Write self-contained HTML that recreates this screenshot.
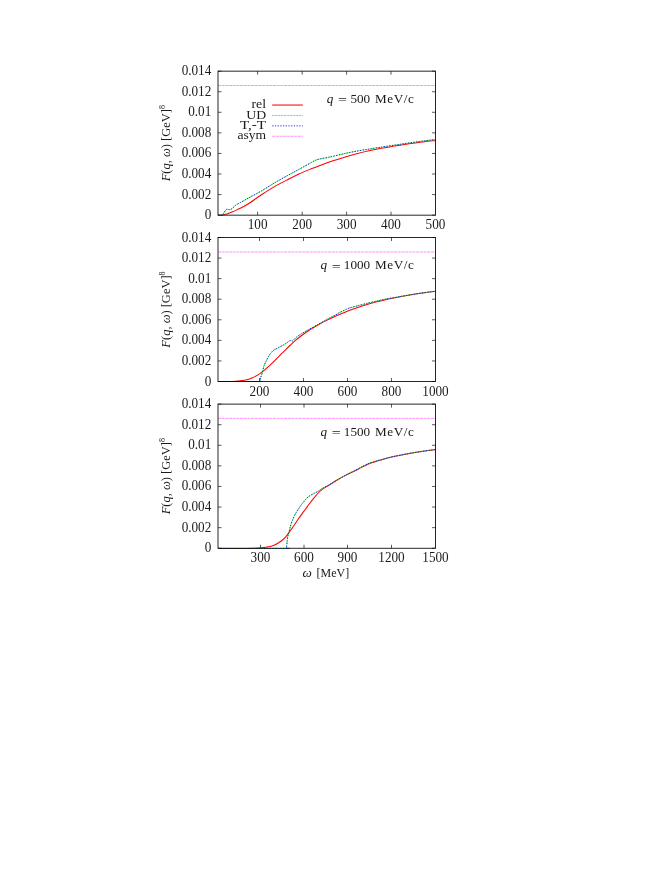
<!DOCTYPE html>
<html><head><meta charset="utf-8"><title>F(q,omega)</title>
<style>
html,body{margin:0;padding:0;background:#fff;}
body{width:654px;height:872px;overflow:hidden;font-family:"Liberation Serif",serif;}
svg{display:block;position:absolute;left:0;top:0;will-change:transform;}
text{font-family:"Liberation Serif",serif;font-size:13.2px;fill:#1a1a1a;}
.i{font-style:italic;}
.fr{fill:none;stroke:#000;stroke-width:0.85;}
.tk{stroke:#000;stroke-width:0.65;fill:none;}
.red{fill:none;stroke:#ff0000;stroke-width:1.05;stroke-linejoin:round;}
.grn{fill:none;stroke:#00ff00;stroke-width:0.72;stroke-dasharray:2.2 0.8;}
.blu{fill:none;stroke:#0000ff;stroke-width:0.8;stroke-dasharray:1.3 1.4;}
.mag{fill:none;stroke:#ff00ff;stroke-width:0.44;stroke-dasharray:3.0 0.67;}
</style></head><body>
<svg width="654" height="872" viewBox="0 0 654 872">
<rect x="0" y="0" width="654" height="872" fill="#ffffff"/>

<g>
<clipPath id="c0"><rect x="217.50" y="70.65" width="218.70" height="145.20"/></clipPath>
<text transform="translate(211.30 219.15) scale(1.000 1.080)" text-anchor="end">0</text>
<text transform="translate(211.30 198.58) scale(1.000 1.080)" text-anchor="end">0.002</text>
<text transform="translate(211.30 178.01) scale(1.000 1.080)" text-anchor="end">0.004</text>
<text transform="translate(211.30 157.44) scale(1.000 1.080)" text-anchor="end">0.006</text>
<text transform="translate(211.30 136.86) scale(1.000 1.080)" text-anchor="end">0.008</text>
<text transform="translate(211.30 116.29) scale(1.000 1.080)" text-anchor="end">0.01</text>
<text transform="translate(211.30 95.72) scale(1.000 1.080)" text-anchor="end">0.012</text>
<text transform="translate(211.30 75.15) scale(1.000 1.080)" text-anchor="end">0.014</text>
<text transform="translate(257.60 229.40) scale(1.000 1.080)" text-anchor="middle">100</text>
<text transform="translate(302.20 229.40) scale(1.000 1.080)" text-anchor="middle">200</text>
<text transform="translate(346.60 229.40) scale(1.000 1.080)" text-anchor="middle">300</text>
<text transform="translate(391.00 229.40) scale(1.000 1.080)" text-anchor="middle">400</text>
<text transform="translate(435.50 229.40) scale(1.000 1.080)" text-anchor="middle">500</text>
<path class="tk" d="M218.00 215.15h3.50M435.50 215.15h-3.50M218.00 194.58h3.50M435.50 194.58h-3.50M218.00 174.01h3.50M435.50 174.01h-3.50M218.00 153.44h3.50M435.50 153.44h-3.50M218.00 132.86h3.50M435.50 132.86h-3.50M218.00 112.29h3.50M435.50 112.29h-3.50M218.00 91.72h3.50M435.50 91.72h-3.50M218.00 71.15h3.50M435.50 71.15h-3.50M257.60 215.15v-3.50M257.60 71.15v3.50M302.20 215.15v-3.50M302.20 71.15v3.50M346.60 215.15v-3.50M346.60 71.15v3.50M391.00 215.15v-3.50M391.00 71.15v3.50"/>
<g clip-path="url(#c0)">
<path class="red" d="M218.20 215.35C218.95 215.31 221.23 215.34 222.70 215.10C224.17 214.86 225.47 214.40 227.00 213.90C228.53 213.40 230.17 212.82 231.90 212.10C233.63 211.38 235.37 210.57 237.40 209.60C239.43 208.63 242.00 207.45 244.10 206.30C246.20 205.15 248.02 204.00 250.00 202.70C251.98 201.40 253.97 199.92 256.00 198.50C258.03 197.08 259.12 196.18 262.20 194.20C265.28 192.22 270.42 188.95 274.50 186.60C278.58 184.25 282.63 182.20 286.70 180.10C290.77 178.00 294.82 175.88 298.90 174.00C302.98 172.12 307.68 170.23 311.20 168.80C314.72 167.37 316.50 166.68 320.00 165.40C323.50 164.12 328.12 162.47 332.20 161.10C336.28 159.73 340.42 158.42 344.50 157.20C348.58 155.98 352.63 154.87 356.70 153.80C360.77 152.73 364.82 151.72 368.90 150.80C372.98 149.88 376.02 149.23 381.20 148.30C386.38 147.37 394.03 146.13 400.00 145.20C405.97 144.27 411.10 143.50 417.00 142.70C422.90 141.90 432.33 140.78 435.40 140.40"/>
<path class="grn" d="M218.20 215.35C218.71 215.33 222.00 215.37 222.60 215.20C223.19 215.03 222.86 214.58 223.30 213.90C223.74 213.22 225.68 209.89 226.40 209.40C227.12 208.91 228.86 209.78 229.50 209.70C230.14 209.62 231.19 209.21 231.90 208.70C232.61 208.19 234.60 206.02 235.60 205.30C236.60 204.58 239.22 203.22 240.50 202.50C241.78 201.78 245.49 199.72 246.60 199.10C247.71 198.48 248.18 198.20 250.00 197.20C251.82 196.20 259.34 192.17 262.20 190.50C265.06 188.83 271.64 184.59 274.50 182.90C277.36 181.21 283.85 177.57 286.70 176.00C289.55 174.43 296.04 170.96 298.90 169.40C301.76 167.84 309.27 163.66 311.20 162.60C313.12 161.54 314.41 160.72 315.40 160.30C316.39 159.88 318.00 159.38 319.70 159.00C321.40 158.62 327.11 157.63 330.00 157.00C332.89 156.37 341.38 154.29 344.50 153.60C347.62 152.91 353.85 151.62 356.70 151.10C359.55 150.57 366.04 149.57 368.90 149.10C371.76 148.63 377.57 147.66 381.20 147.10C384.83 146.54 395.82 144.92 400.00 144.30C404.18 143.68 412.87 142.36 417.00 141.80C421.13 141.24 433.25 139.77 435.40 139.50"/>
<path class="blu" d="M218.20 215.35C218.71 215.33 222.00 215.37 222.60 215.20C223.19 215.03 222.86 214.58 223.30 213.90C223.74 213.22 225.68 209.89 226.40 209.40C227.12 208.91 228.86 209.78 229.50 209.70C230.14 209.62 231.19 209.21 231.90 208.70C232.61 208.19 234.60 206.02 235.60 205.30C236.60 204.58 239.22 203.22 240.50 202.50C241.78 201.78 245.49 199.72 246.60 199.10C247.71 198.48 248.18 198.20 250.00 197.20C251.82 196.20 259.34 192.17 262.20 190.50C265.06 188.83 271.64 184.59 274.50 182.90C277.36 181.21 283.85 177.57 286.70 176.00C289.55 174.43 296.04 170.96 298.90 169.40C301.76 167.84 309.27 163.66 311.20 162.60C313.12 161.54 314.41 160.72 315.40 160.30C316.39 159.88 318.00 159.38 319.70 159.00C321.40 158.62 327.11 157.63 330.00 157.00C332.89 156.37 341.38 154.29 344.50 153.60C347.62 152.91 353.85 151.62 356.70 151.10C359.55 150.57 366.04 149.57 368.90 149.10C371.76 148.63 377.57 147.66 381.20 147.10C384.83 146.54 395.82 144.92 400.00 144.30C404.18 143.68 412.87 142.36 417.00 141.80C421.13 141.24 433.25 139.77 435.40 139.50"/>
<path class="mag" d="M218.00 85.50H435.50"/>
</g>
<rect class="fr" x="218.00" y="71.15" width="217.50" height="144.00"/>
<text transform="translate(326.65 102.95) scale(1.000 0.980)" class="i">q</text>
<text transform="translate(342.45 104.15) scale(1.200 0.980)" text-anchor="middle">=</text>
<text transform="translate(370.20 102.95) scale(1.000 0.980)" text-anchor="end">500</text>
<text transform="translate(375.00 102.95) scale(1.000 0.980)" textLength="38.8" lengthAdjust="spacing">MeV/c</text>
<text transform="translate(170.00 143.15) rotate(-90) scale(1.000 1.000)" text-anchor="middle" textLength="76.3" lengthAdjust="spacingAndGlyphs"><tspan class="i">F</tspan>(<tspan class="i">q</tspan>, <tspan class="i">ω</tspan>) [GeV]<tspan dy="-5.2" font-size="8.6">8</tspan></text>
</g>
<g>
<clipPath id="c1"><rect x="217.50" y="237.00" width="218.70" height="145.20"/></clipPath>
<text transform="translate(211.30 385.50) scale(1.000 1.080)" text-anchor="end">0</text>
<text transform="translate(211.30 364.93) scale(1.000 1.080)" text-anchor="end">0.002</text>
<text transform="translate(211.30 344.36) scale(1.000 1.080)" text-anchor="end">0.004</text>
<text transform="translate(211.30 323.79) scale(1.000 1.080)" text-anchor="end">0.006</text>
<text transform="translate(211.30 303.21) scale(1.000 1.080)" text-anchor="end">0.008</text>
<text transform="translate(211.30 282.64) scale(1.000 1.080)" text-anchor="end">0.01</text>
<text transform="translate(211.30 262.07) scale(1.000 1.080)" text-anchor="end">0.012</text>
<text transform="translate(211.30 241.50) scale(1.000 1.080)" text-anchor="end">0.014</text>
<text transform="translate(259.50 395.55) scale(1.000 1.080)" text-anchor="middle">200</text>
<text transform="translate(303.50 395.55) scale(1.000 1.080)" text-anchor="middle">400</text>
<text transform="translate(347.50 395.55) scale(1.000 1.080)" text-anchor="middle">600</text>
<text transform="translate(391.50 395.55) scale(1.000 1.080)" text-anchor="middle">800</text>
<text transform="translate(435.50 395.55) scale(1.000 1.080)" text-anchor="middle">1000</text>
<path class="tk" d="M218.00 381.50h3.50M435.50 381.50h-3.50M218.00 360.93h3.50M435.50 360.93h-3.50M218.00 340.36h3.50M435.50 340.36h-3.50M218.00 319.79h3.50M435.50 319.79h-3.50M218.00 299.21h3.50M435.50 299.21h-3.50M218.00 278.64h3.50M435.50 278.64h-3.50M218.00 258.07h3.50M435.50 258.07h-3.50M218.00 237.50h3.50M435.50 237.50h-3.50M259.50 381.50v-3.50M259.50 237.50v3.50M303.50 381.50v-3.50M303.50 237.50v3.50M347.50 381.50v-3.50M347.50 237.50v3.50M391.50 381.50v-3.50M391.50 237.50v3.50"/>
<g clip-path="url(#c1)">
<path class="red" d="M218.20 381.50C220.17 381.49 227.03 381.48 230.00 381.45C232.97 381.42 234.08 381.44 236.00 381.30C237.92 381.16 239.67 380.87 241.50 380.60C243.33 380.33 245.17 380.18 247.00 379.70C248.83 379.22 250.67 378.50 252.50 377.70C254.33 376.90 256.32 375.90 258.00 374.90C259.68 373.90 260.92 373.03 262.60 371.70C264.28 370.37 266.12 368.72 268.10 366.90C270.08 365.08 272.52 362.73 274.50 360.80C276.48 358.87 278.17 357.13 280.00 355.30C281.83 353.47 283.75 351.52 285.50 349.80C287.25 348.08 288.83 346.57 290.50 345.00C292.17 343.43 293.75 341.90 295.50 340.40C297.25 338.90 298.87 337.62 301.00 336.00C303.13 334.38 305.55 332.50 308.30 330.70C311.05 328.90 314.43 326.92 317.50 325.20C320.57 323.48 323.63 321.93 326.70 320.40C329.77 318.87 332.85 317.37 335.90 316.00C338.95 314.63 341.98 313.40 345.00 312.20C348.02 311.00 350.90 309.93 354.00 308.80C357.10 307.67 360.60 306.38 363.60 305.40C366.60 304.42 369.18 303.65 372.00 302.90C374.82 302.15 377.50 301.58 380.50 300.90C383.50 300.22 386.75 299.50 390.00 298.80C393.25 298.10 395.98 297.47 400.00 296.70C404.02 295.93 408.20 295.10 414.10 294.20C420.00 293.30 431.85 291.78 435.40 291.30"/>
<path class="grn" d="M218.20 381.50C222.96 381.50 254.16 381.57 259.00 381.50C263.84 381.43 259.49 381.40 259.70 380.90C259.91 380.40 260.46 378.27 260.80 377.20C261.14 376.13 262.23 373.04 262.60 371.70C262.97 370.36 263.57 366.98 264.00 365.70C264.43 364.42 265.72 361.88 266.30 360.70C266.88 359.52 268.31 356.67 269.00 355.60C269.69 354.53 271.56 352.19 272.20 351.50C272.84 350.81 273.69 350.18 274.50 349.70C275.31 349.22 278.03 347.96 279.10 347.40C280.17 346.84 282.73 345.47 283.70 344.90C284.67 344.33 286.68 343.00 287.40 342.50C288.12 342.00 289.29 340.79 289.90 340.60C290.51 340.41 291.84 341.30 292.60 340.90C293.36 340.50 295.42 337.99 296.40 337.20C297.38 336.41 299.61 334.96 301.00 334.10C302.39 333.24 306.38 330.88 308.30 329.80C310.23 328.72 315.35 326.00 317.50 324.80C319.65 323.60 324.55 320.68 326.70 319.50C328.85 318.32 334.35 315.53 335.90 314.70C337.45 313.87 338.45 313.17 340.00 312.40C341.55 311.63 347.06 308.89 349.20 308.10C351.33 307.31 356.17 306.17 358.30 305.60C360.44 305.03 365.35 303.72 367.50 303.20C369.65 302.68 374.55 301.59 376.70 301.10C378.85 300.61 383.18 299.52 385.90 299.00C388.62 298.48 396.71 297.16 400.00 296.60C403.29 296.04 409.97 294.83 414.10 294.20C418.23 293.57 432.91 291.55 435.40 291.20"/>
<path class="blu" d="M218.20 381.50C222.96 381.50 254.16 381.57 259.00 381.50C263.84 381.43 259.49 381.40 259.70 380.90C259.91 380.40 260.46 378.27 260.80 377.20C261.14 376.13 262.23 373.04 262.60 371.70C262.97 370.36 263.57 366.98 264.00 365.70C264.43 364.42 265.72 361.88 266.30 360.70C266.88 359.52 268.31 356.67 269.00 355.60C269.69 354.53 271.56 352.19 272.20 351.50C272.84 350.81 273.69 350.18 274.50 349.70C275.31 349.22 278.03 347.96 279.10 347.40C280.17 346.84 282.73 345.47 283.70 344.90C284.67 344.33 286.68 343.00 287.40 342.50C288.12 342.00 289.29 340.79 289.90 340.60C290.51 340.41 291.84 341.30 292.60 340.90C293.36 340.50 295.42 337.99 296.40 337.20C297.38 336.41 299.61 334.96 301.00 334.10C302.39 333.24 306.38 330.88 308.30 329.80C310.23 328.72 315.35 326.00 317.50 324.80C319.65 323.60 324.55 320.68 326.70 319.50C328.85 318.32 334.35 315.53 335.90 314.70C337.45 313.87 338.45 313.17 340.00 312.40C341.55 311.63 347.06 308.89 349.20 308.10C351.33 307.31 356.17 306.17 358.30 305.60C360.44 305.03 365.35 303.72 367.50 303.20C369.65 302.68 374.55 301.59 376.70 301.10C378.85 300.61 383.18 299.52 385.90 299.00C388.62 298.48 396.71 297.16 400.00 296.60C403.29 296.04 409.97 294.83 414.10 294.20C418.23 293.57 432.91 291.55 435.40 291.20"/>
<path class="mag" d="M218.00 252.00H435.50"/>
</g>
<rect class="fr" x="218.00" y="237.50" width="217.50" height="144.00"/>
<text transform="translate(320.50 269.30) scale(1.000 0.980)" class="i">q</text>
<text transform="translate(336.30 270.50) scale(1.200 0.980)" text-anchor="middle">=</text>
<text transform="translate(370.20 269.30) scale(1.000 0.980)" text-anchor="end">1000</text>
<text transform="translate(375.00 269.30) scale(1.000 0.980)" textLength="38.8" lengthAdjust="spacing">MeV/c</text>
<text transform="translate(170.00 309.50) rotate(-90) scale(1.000 1.000)" text-anchor="middle" textLength="76.3" lengthAdjust="spacingAndGlyphs"><tspan class="i">F</tspan>(<tspan class="i">q</tspan>, <tspan class="i">ω</tspan>) [GeV]<tspan dy="-5.2" font-size="8.6">8</tspan></text>
</g>
<g>
<clipPath id="c2"><rect x="217.50" y="403.60" width="218.70" height="145.35"/></clipPath>
<text transform="translate(211.30 552.25) scale(1.000 1.080)" text-anchor="end">0</text>
<text transform="translate(211.30 531.66) scale(1.000 1.080)" text-anchor="end">0.002</text>
<text transform="translate(211.30 511.06) scale(1.000 1.080)" text-anchor="end">0.004</text>
<text transform="translate(211.30 490.47) scale(1.000 1.080)" text-anchor="end">0.006</text>
<text transform="translate(211.30 469.88) scale(1.000 1.080)" text-anchor="end">0.008</text>
<text transform="translate(211.30 449.29) scale(1.000 1.080)" text-anchor="end">0.01</text>
<text transform="translate(211.30 428.69) scale(1.000 1.080)" text-anchor="end">0.012</text>
<text transform="translate(211.30 408.10) scale(1.000 1.080)" text-anchor="end">0.014</text>
<text transform="translate(260.50 561.90) scale(1.000 1.080)" text-anchor="middle">300</text>
<text transform="translate(304.00 561.90) scale(1.000 1.080)" text-anchor="middle">600</text>
<text transform="translate(347.50 561.90) scale(1.000 1.080)" text-anchor="middle">900</text>
<text transform="translate(391.50 561.90) scale(1.000 1.080)" text-anchor="middle">1200</text>
<text transform="translate(435.50 561.90) scale(1.000 1.080)" text-anchor="middle">1500</text>
<path class="tk" d="M218.00 548.25h3.50M435.50 548.25h-3.50M218.00 527.66h3.50M435.50 527.66h-3.50M218.00 507.06h3.50M435.50 507.06h-3.50M218.00 486.47h3.50M435.50 486.47h-3.50M218.00 465.88h3.50M435.50 465.88h-3.50M218.00 445.29h3.50M435.50 445.29h-3.50M218.00 424.69h3.50M435.50 424.69h-3.50M218.00 404.10h3.50M435.50 404.10h-3.50M260.50 548.25v-3.50M260.50 404.10v3.50M304.00 548.25v-3.50M304.00 404.10v3.50M347.50 548.25v-3.50M347.50 404.10v3.50M391.50 548.25v-3.50M391.50 404.10v3.50"/>
<g clip-path="url(#c2)">
<path class="red" d="M218.20 548.45C222.67 548.45 238.87 548.48 245.00 548.45C251.13 548.43 252.12 548.41 255.00 548.30C257.88 548.19 260.00 548.05 262.30 547.80C264.60 547.55 266.97 547.18 268.80 546.80C270.63 546.42 271.78 546.10 273.30 545.50C274.82 544.90 276.37 544.12 277.90 543.20C279.43 542.28 281.12 541.15 282.50 540.00C283.88 538.85 285.13 537.53 286.20 536.30C287.27 535.07 287.68 534.28 288.90 532.60C290.12 530.92 291.97 528.42 293.50 526.20C295.03 523.98 296.57 521.52 298.10 519.30C299.63 517.08 301.47 514.58 302.70 512.90C303.93 511.22 304.42 510.68 305.50 509.20C306.58 507.72 307.82 505.85 309.20 504.00C310.58 502.15 312.28 499.93 313.80 498.10C315.32 496.27 316.78 494.53 318.30 493.00C319.82 491.47 321.37 490.07 322.90 488.90C324.43 487.73 325.20 487.45 327.50 486.00C329.80 484.55 333.63 482.02 336.70 480.20C339.77 478.38 342.85 476.67 345.90 475.10C348.95 473.53 352.40 472.08 355.00 470.80C357.60 469.52 359.33 468.50 361.50 467.40C363.67 466.30 365.83 465.12 368.00 464.20C370.17 463.28 372.33 462.62 374.50 461.90C376.67 461.18 377.75 460.80 381.00 459.90C384.25 459.00 389.67 457.50 394.00 456.50C398.33 455.50 402.67 454.70 407.00 453.90C411.33 453.10 415.27 452.42 420.00 451.70C424.73 450.98 432.83 449.95 435.40 449.60"/>
<path class="grn" d="M218.20 548.45C226.13 548.45 278.24 548.51 286.20 548.45C294.16 548.39 286.29 548.68 286.40 547.90C286.50 547.12 286.94 543.15 287.10 541.80C287.26 540.45 287.59 537.37 287.80 536.30C288.01 535.23 288.61 533.72 288.90 532.60C289.19 531.48 289.87 528.19 290.30 526.70C290.73 525.21 292.01 521.30 292.60 519.80C293.19 518.29 294.70 515.08 295.40 513.80C296.10 512.52 297.85 509.92 298.60 508.80C299.35 507.68 301.05 505.19 301.80 504.20C302.55 503.21 304.23 501.19 305.00 500.30C305.77 499.41 307.37 497.39 308.40 496.60C309.43 495.81 312.64 494.13 313.80 493.50C314.96 492.87 317.24 491.84 318.30 491.20C319.36 490.56 321.83 488.61 322.90 488.00C323.97 487.39 325.89 486.90 327.50 486.00C329.11 485.10 334.55 481.57 336.70 480.30C338.85 479.03 343.76 476.24 345.90 475.10C348.03 473.96 353.18 471.44 355.00 470.50C356.82 469.56 359.98 467.79 361.50 467.00C363.02 466.21 366.48 464.34 368.00 463.70C369.52 463.06 372.98 461.97 374.50 461.50C376.02 461.03 378.73 460.30 381.00 459.70C383.27 459.10 390.97 457.09 394.00 456.40C397.03 455.71 403.97 454.36 407.00 453.80C410.03 453.24 416.69 452.10 420.00 451.60C423.31 451.10 433.60 449.75 435.40 449.50"/>
<path class="blu" d="M218.20 548.45C226.13 548.45 278.24 548.51 286.20 548.45C294.16 548.39 286.29 548.68 286.40 547.90C286.50 547.12 286.94 543.15 287.10 541.80C287.26 540.45 287.59 537.37 287.80 536.30C288.01 535.23 288.61 533.72 288.90 532.60C289.19 531.48 289.87 528.19 290.30 526.70C290.73 525.21 292.01 521.30 292.60 519.80C293.19 518.29 294.70 515.08 295.40 513.80C296.10 512.52 297.85 509.92 298.60 508.80C299.35 507.68 301.05 505.19 301.80 504.20C302.55 503.21 304.23 501.19 305.00 500.30C305.77 499.41 307.37 497.39 308.40 496.60C309.43 495.81 312.64 494.13 313.80 493.50C314.96 492.87 317.24 491.84 318.30 491.20C319.36 490.56 321.83 488.61 322.90 488.00C323.97 487.39 325.89 486.90 327.50 486.00C329.11 485.10 334.55 481.57 336.70 480.30C338.85 479.03 343.76 476.24 345.90 475.10C348.03 473.96 353.18 471.44 355.00 470.50C356.82 469.56 359.98 467.79 361.50 467.00C363.02 466.21 366.48 464.34 368.00 463.70C369.52 463.06 372.98 461.97 374.50 461.50C376.02 461.03 378.73 460.30 381.00 459.70C383.27 459.10 390.97 457.09 394.00 456.40C397.03 455.71 403.97 454.36 407.00 453.80C410.03 453.24 416.69 452.10 420.00 451.60C423.31 451.10 433.60 449.75 435.40 449.50"/>
<path class="mag" d="M218.00 418.40H435.50"/>
</g>
<rect class="fr" x="218.00" y="404.10" width="217.50" height="144.15"/>
<text transform="translate(320.50 435.90) scale(1.000 0.980)" class="i">q</text>
<text transform="translate(336.30 437.10) scale(1.200 0.980)" text-anchor="middle">=</text>
<text transform="translate(370.20 435.90) scale(1.000 0.980)" text-anchor="end">1500</text>
<text transform="translate(375.00 435.90) scale(1.000 0.980)" textLength="38.8" lengthAdjust="spacing">MeV/c</text>
<text transform="translate(170.00 476.18) rotate(-90) scale(1.000 1.000)" text-anchor="middle" textLength="76.3" lengthAdjust="spacingAndGlyphs"><tspan class="i">F</tspan>(<tspan class="i">q</tspan>, <tspan class="i">ω</tspan>) [GeV]<tspan dy="-5.2" font-size="8.6">8</tspan></text>
</g>
<text transform="translate(266.10 108.15) scale(1.000 0.957)" text-anchor="end" textLength="14.6" lengthAdjust="spacingAndGlyphs">rel</text>
<path class="red" d="M272.2 105.05H302.8"/>
<text transform="translate(266.10 118.55) scale(1.000 0.957)" text-anchor="end" textLength="19.9" lengthAdjust="spacingAndGlyphs">UD</text>
<path class="grn" d="M272.2 115.45H302.8"/>
<text transform="translate(266.10 128.95) scale(1.000 0.957)" text-anchor="end" textLength="26.2" lengthAdjust="spacingAndGlyphs">T,-T</text>
<path class="blu" d="M272.2 125.85H302.8"/>
<text transform="translate(266.10 139.35) scale(1.000 0.957)" text-anchor="end" textLength="28.7" lengthAdjust="spacingAndGlyphs">asym</text>
<path class="mag" d="M272.2 136.25H302.8"/>
<text transform="translate(302.60 576.50) scale(1.000 0.920)" class="i">ω</text>
<text transform="translate(316.60 576.50) scale(1.000 0.980)" textLength="32.6" lengthAdjust="spacingAndGlyphs">[MeV]</text>
</svg></body></html>
